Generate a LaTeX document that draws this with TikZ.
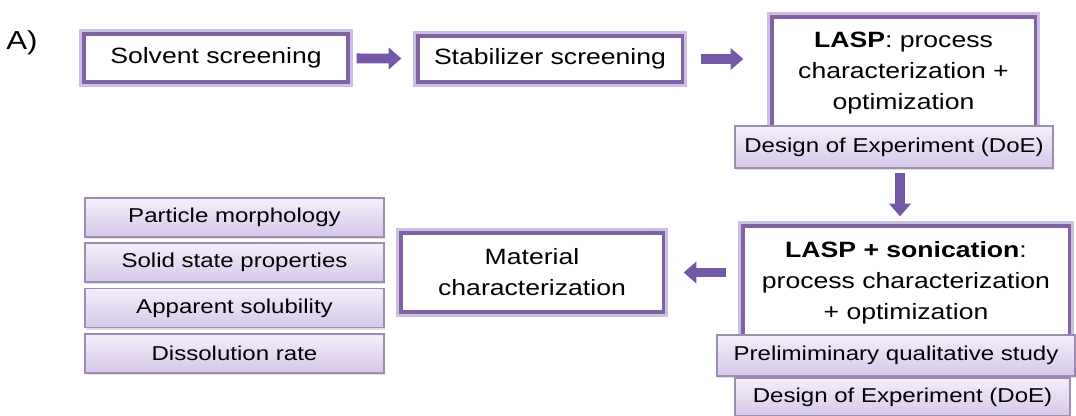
\documentclass[tikz,border=0pt]{standalone}
\usepackage{fontspec}
\setmainfont{Liberation Sans}[FakeStretch=1.2]
\usetikzlibrary{arrows.meta,shadows}

\definecolor{lilac}{HTML}{8064A2}
\definecolor{lilacglow}{HTML}{CDBFE3}
\definecolor{arrowlilac}{HTML}{7457A6}
\definecolor{tagtop}{HTML}{F4EFFA}
\definecolor{tagbottom}{HTML}{D6C7EA}
\definecolor{tagline}{HTML}{9C8CB0}

\newcommand{\mainsize}{\fontsize{6.3}{8.8}\selectfont}
\newcommand{\tagsize}{\fontsize{5.7}{7}\selectfont}

\tikzstyle{process} = [rectangle, draw=lilac, line width=0.9pt, fill=white, align=center, inner sep=0pt, font=\mainsize, preaction={draw=lilacglow, line width=2.8pt}]
\tikzstyle{tag} = [rectangle, draw=tagline, line width=0.5pt, top color=tagtop, bottom color=tagbottom, inner sep=0pt, font=\tagsize, drop shadow={opacity=0.25, shadow xshift=0.2pt, shadow yshift=-0.6pt}]
\tikzstyle{prop} = [tag, minimum width=2.99cm, minimum height=0.39cm]
\tikzstyle{arrow} = [draw=arrowlilac, line width=2.8pt, -{Triangle[length=3.6pt, width=6pt]}]

\begin{document}
\begin{tikzpicture}[x=0.01cm, y=-0.01cm, node distance=0.4525cm]
	\useasboundingbox (0,0) rectangle (1076,416);
	\node (0) at (22,43) [font=\fontsize{7.4}{9}\selectfont] {A)};

	% top row
	\node (1) at (216,58) [process, minimum width=2.64cm, minimum height=0.48cm] {Solvent screening};
	\node (2) at (550,59) [process, minimum width=2.64cm, minimum height=0.46cm] {Stabilizer screening};
	\node (3) at (903.5,73.5) [process, minimum width=2.63cm, minimum height=1.13cm] {\textbf{LASP}: process\\characterization +\\optimization};
	\node (4) at (894,147) [tag, minimum width=3.18cm, minimum height=0.42cm] {Design of Experiment (DoE)};

	% bottom row
	\node (5) at (906,282.5) [process, minimum width=3.26cm, minimum height=1.13cm] {\textbf{LASP + sonication}:\\process characterization\\+ optimization};
	\node (6) at (896,355.5) [tag, minimum width=3.58cm, minimum height=0.41cm] {Prelimiminary qualitative study};
	\node (7) at (902.5,397) [tag, minimum width=3.35cm, minimum height=0.38cm] {Design of Experiment (DoE)};
	\node (8) at (532,272.5) [process, minimum width=2.62cm, minimum height=0.79cm] {Material\\characterization};

	\node (9) at (234.5,217.5) [prop] {Particle morphology};
	\node (10) [prop, below of=9] {Solid state properties};
	\node (11) [prop, below of=10] {Apparent solubility};
	\node (12) [prop, below of=11] {Dissolution rate};

	\draw [arrow, shorten <=0.07cm, shorten >=0.15cm] (1) -- (2);
	\draw [arrow, shorten <=0.17cm, shorten >=0.27cm] (2.east) -- (2.east -| 3.west);
	\draw [arrow, shorten <=0.04cm, shorten >=0.08cm] ([xshift=0.06cm]4.south) -- ([xshift=0.06cm]4.south |- 5.north);
	\draw [arrow, shorten <=0.15cm, shorten >=0.19cm] (5.west |- 8.east) -- (8.east);
\end{tikzpicture}
\end{document}
